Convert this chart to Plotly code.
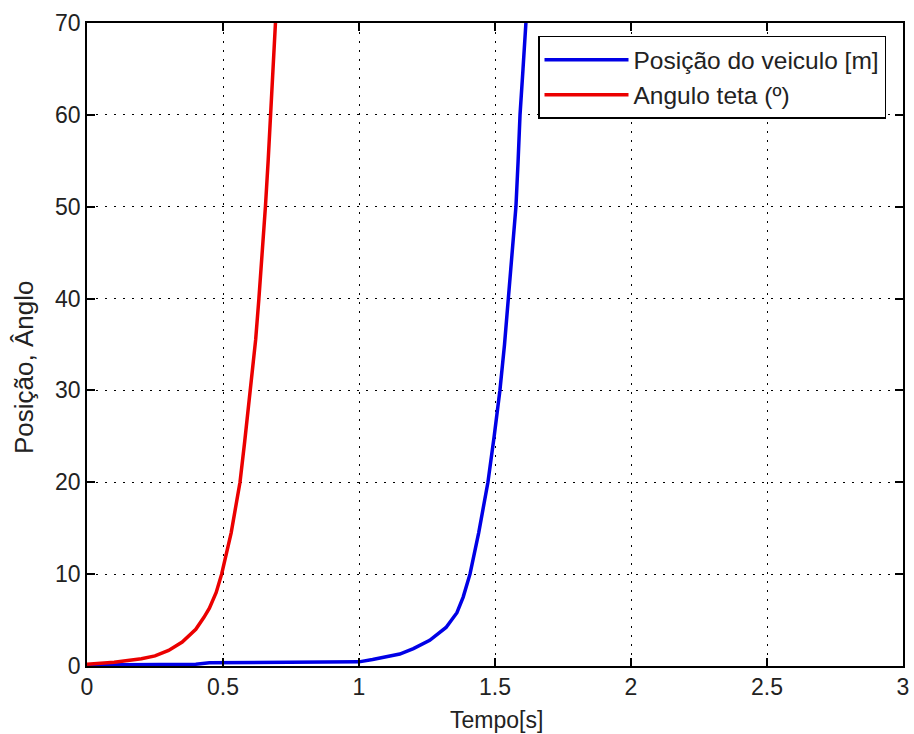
import plotly.graph_objects as go

# Red curve: Angulo teta (º)
t_red = [0.0, 0.05, 0.10, 0.15, 0.20, 0.25, 0.30, 0.35, 0.38, 0.40, 0.43, 0.45, 0.475,
         0.495, 0.53, 0.5625, 0.58, 0.60, 0.62, 0.632, 0.645, 0.656, 0.666, 0.675, 0.684, 0.692, 0.70]
y_red = [0.2, 0.3, 0.4, 0.6, 0.8, 1.1, 1.7, 2.6, 3.4, 4.0, 5.3, 6.3, 8.0,
         10.0, 14.5, 20.0, 24.5, 30.0, 35.5, 40.0, 45.0, 50.0, 55.0, 60.0, 65.0, 70.0, 74.0]

# Blue curve: Posição do veiculo [m]
t_blue = [0.0, 0.2, 0.4, 0.45, 0.6, 0.8, 1.0, 1.05, 1.10, 1.15, 1.20, 1.26, 1.32, 1.36, 1.383,
          1.408, 1.44, 1.474, 1.497, 1.518, 1.535, 1.549, 1.563, 1.577, 1.585, 1.592, 1.603, 1.614, 1.62]
y_blue = [0.1, 0.15, 0.2, 0.35, 0.4, 0.4, 0.45, 0.7, 1.0, 1.3, 1.9, 2.8, 4.2, 5.8, 7.5,
          10.0, 14.5, 20.0, 25.0, 30.0, 35.0, 40.0, 45.0, 50.0, 55.0, 60.0, 65.0, 70.0, 73.0]

x_ticks = [0, 0.5, 1, 1.5, 2, 2.5, 3]
x_ticklabels = ["0", "0.5", "1", "1.5", "2", "2.5", "3"]
y_ticks = [0, 10, 20, 30, 40, 50, 60, 70]
y_ticklabels = ["0", "10", "20", "30", "40", "50", "60", "70"]

FONT = "Liberation Sans, Arial, sans-serif"
TXT = "#222"

fig = go.Figure()
fig.add_trace(go.Scatter(x=t_blue, y=y_blue, mode="lines", name="Posição do veiculo [m]",
                         line=dict(color="rgb(0,0,230)", width=3.5)))
fig.add_trace(go.Scatter(x=t_red, y=y_red, mode="lines", name="Angulo teta (º)",
                         line=dict(color="rgb(235,0,0)", width=3.5)))

axis_common = dict(
    showline=True, linecolor="black", linewidth=1.5, mirror="allticks",
    ticks="inside", ticklen=8, tickwidth=1.5, tickcolor="black",
    showgrid=True, gridcolor="black", gridwidth=1, griddash="2px,7px",
    zeroline=False, tickfont=dict(family=FONT, size=23, color=TXT),
)

fig.update_xaxes(range=[0, 3], tickvals=x_ticks, ticktext=x_ticklabels, **axis_common)
fig.update_yaxes(range=[0, 70], tickvals=y_ticks, ticktext=y_ticklabels, **axis_common)

fig.update_layout(
    width=914, height=734,
    margin=dict(l=87, r=11, t=23, b=68, autoexpand=False),
    paper_bgcolor="white", plot_bgcolor="white",
    showlegend=True,
    legend=dict(x=0.5527, y=0.98, xanchor="left", yanchor="top",
                bgcolor="white", bordercolor="black", borderwidth=1.5,
                font=dict(family=FONT, size=24.5, color=TXT),
                itemwidth=84, tracegroupgap=0),
    annotations=[
        dict(text="Tempo[s]", xref="paper", yref="paper", x=(496 - 87) / 816, y=(666 - 720) / 643,
             showarrow=False, xanchor="center", yanchor="middle",
             font=dict(family=FONT, size=23, color=TXT)),
        dict(text="Posição, Ânglo", xref="paper", yref="paper", x=(24 - 87) / 816, y=(666 - 368) / 643,
             showarrow=False, xanchor="center", yanchor="middle", textangle=-90,
             font=dict(family=FONT, size=26, color=TXT)),
    ],
)

fig.write_html(
    "out.html",
    config={"displayModeBar": False},
    post_script="document.body.style.margin='0';document.body.style.overflow='hidden';",
)
